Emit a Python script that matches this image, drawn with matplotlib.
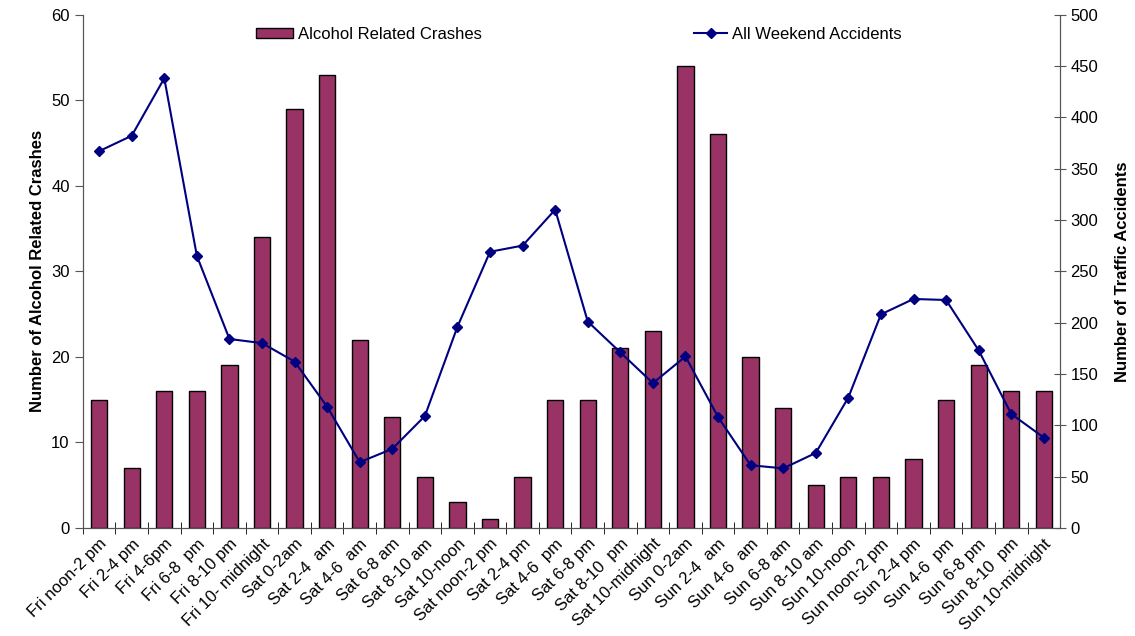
import numpy as np
import matplotlib.pyplot as plt

plt.rcParams['font.family'] = ['Liberation Sans', 'DejaVu Sans']

periods = ["Fri noon-2 pm", "Fri 2-4 pm", "Fri 4-6pm", "Fri 6-8  pm", "Fri 8-10 pm",
           "Fri 10- midnight", "Sat 0-2am", "Sat 2-4  am", "Sat 4-6  am", "Sat 6-8 am",
           "Sat 8-10 am", "Sat 10-noon", "Sat noon-2 pm", "Sat 2-4 pm", "Sat 4-6  pm",
           "Sat 6-8 pm", "Sat 8-10  pm", "Sat 10-midnight", "Sun 0-2am", "Sun 2-4  am",
           "Sun 4-6  am", "Sun 6-8 am", "Sun 8-10 am", "Sun 10-noon", "Sun noon-2 pm",
           "Sun 2-4 pm", "Sun 4-6  pm", "Sun 6-8 pm", "Sun 8-10  pm", "Sun 10-midnight"]
alcohol_crashes = [15, 7, 16, 16, 19, 34, 49, 53, 22, 13, 6, 3, 1, 6, 15,
                   15, 21, 23, 54, 46, 20, 14, 5, 6, 6, 8, 15, 19, 16, 16]
weekend_accidents = [367, 382, 438, 265, 184, 180, 162, 118, 64, 77, 109, 196, 269, 275, 310,
                     201, 171, 141, 167, 108, 61, 58, 73, 127, 208, 223, 222, 173, 111, 88]

x = np.arange(len(periods))

fig = plt.figure(figsize=(11.35, 6.36), dpi=100)
ax = fig.add_axes([0.073, 0.17, 0.861, 0.807])
ax.bar(x, alcohol_crashes, width=0.5, color="#993366", edgecolor="black",
       linewidth=1.0, label="Alcohol Related Crashes", zorder=2)
ax.set_xlim(-0.5, len(periods) - 0.5)
ax.set_ylim(0, 60)
ax.set_yticks(range(0, 61, 10))
ax.set_ylabel("Number of Alcohol Related Crashes", fontsize=12, fontweight="bold")
ax.set_xticks(x - 0.5, minor=True)
ax.set_xticks(x)
ax.set_xticklabels(periods, rotation=45, ha="right", rotation_mode="anchor", fontsize=12)
ax.tick_params(axis="x", which="major", length=0, pad=6)
ax.tick_params(axis="x", which="minor", length=8, direction="inout", color="black")
ax.tick_params(axis="y", labelsize=12, length=6, color="#555555")
ax.spines["top"].set_visible(False)
for s in ["left", "bottom", "right"]:
    ax.spines[s].set_color("#555555")

ax2 = ax.twinx()
ax2.plot(x, weekend_accidents, color="#000080", marker="D", markersize=5,
         linewidth=1.5, label="All Weekend Accidents", zorder=3)
ax2.set_ylim(0, 500)
ax2.set_yticks(range(0, 501, 50))
ax2.set_ylabel("Number of Traffic Accidents", fontsize=12, fontweight="bold", labelpad=12)
ax2.tick_params(axis="y", labelsize=12, length=8, direction="inout", color="#555555")
ax2.spines["top"].set_visible(False)
for s in ["left", "bottom", "right"]:
    ax2.spines[s].set_color("#555555")

ax.legend(loc="upper left", bbox_to_anchor=(0.162, 1.005), frameon=False, fontsize=12,
          handlelength=2.2, handleheight=0.6, handletextpad=0.3)
ax2.legend(loc="upper left", bbox_to_anchor=(0.61, 1.005), frameon=False, fontsize=12,
           handlelength=2.0, handletextpad=0.3)

fig.savefig("out.png")
